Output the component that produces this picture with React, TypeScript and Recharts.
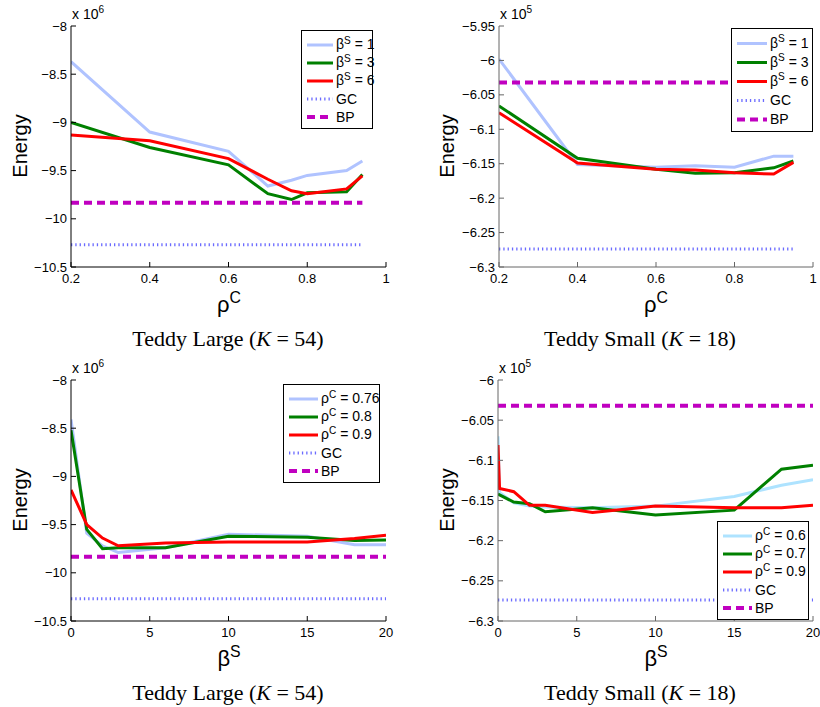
import React from 'react';
import { LineChart, Line, XAxis, YAxis } from 'recharts';

// Teddy Large (K = 54), energy x 10^6 against rho^C
const rhoLarge = [0.2, 0.4, 0.6, 0.7, 0.76, 0.8, 0.9, 0.94];
const largeBeta1 = [-8.37, -9.1, -9.3, -9.66, -9.6, -9.55, -9.5, -9.4];
const largeBeta3 = [-9.0, -9.26, -9.44, -9.74, -9.8, -9.73, -9.72, -9.54];
const largeBeta6 = [-9.13, -9.19, -9.375, -9.59, -9.71, -9.74, -9.69, -9.555];
const largeRhoRange = [0.2, 0.94];

// Teddy Small (K = 18), energy x 10^5 against rho^C
const rhoSmall = [0.2, 0.4, 0.6, 0.7, 0.8, 0.9, 0.95];
const smallBeta1 = [-5.998, -6.151, -6.155, -6.153, -6.155, -6.139, -6.139];
const smallBeta3 = [-6.066, -6.142, -6.158, -6.164, -6.163, -6.156, -6.146];
const smallBeta6 = [-6.076, -6.149, -6.158, -6.159, -6.163, -6.165, -6.148];
const smallRhoRange = [0.2, 0.95];

// Teddy Large, energy x 10^6 against beta^S
const betaLarge = [0, 1, 2, 3, 6, 10, 15, 18, 20];
const largeRho076 = [-8.41, -9.59, -9.72, -9.79, -9.74, -9.6, -9.62, -9.71, -9.71];
const largeRho08 = [-8.52, -9.55, -9.75, -9.74, -9.74, -9.62, -9.63, -9.665, -9.66];
const largeRho09 = [-9.14, -9.5, -9.64, -9.72, -9.69, -9.68, -9.68, -9.645, -9.61];

// Teddy Small, energy x 10^5 against beta^S
const betaSmall = [0, 0.1, 1, 2, 3, 6, 10, 15, 18, 20];
const smallRho06 = [-6.07, -6.14, -6.153, -6.157, -6.158, -6.159, -6.157, -6.145, -6.131, -6.124];
const smallRho07 = [-6.142, -6.143, -6.152, -6.154, -6.164, -6.159, -6.168, -6.162, -6.111, -6.106];
const smallRho09 = [-6.081, -6.135, -6.139, -6.156, -6.156, -6.165, -6.157, -6.159, -6.159, -6.156];
const betaRange = [0, 20];

// baselines
const largeGC = -10.27;
const largeBP = -9.834;
const smallGC = -6.274;
const smallBP = -6.032;

const rhoTicks = [0.2, 0.4, 0.6, 0.8, 1];
const betaTicks = [0, 5, 10, 15, 20];
const largeYTicks = [-10.5, -10, -9.5, -9, -8.5, -8];
const smallYTicks = [-6.3, -6.25, -6.2, -6.15, -6.1, -6.05, -6, -5.95];
const smallYTicks2 = [-6.3, -6.25, -6.2, -6.15, -6.1, -6.05, -6];

const SANS = '"Liberation Sans", Arial, Helvetica, sans-serif';
const SERIF = '"Liberation Serif", "Times New Roman", serif';

const LIGHT_BLUE = '#b0c3ff';
const LIGHT_CYAN = '#aee3ff';
const GREEN = '#008000';
const RED = '#ff0000';
const GC_COL = '#6b6bff';
const BP_COL = '#c000c0';

type Series = {
  name: string;
  xs: number[];
  ys: number[];
  color: string;
  width: number;
  dash?: string;
  label: React.ReactNode;
};

const rows = (xs: number[], ys: number[]) => xs.map((x, i) => ({ x, y: ys[i] }));
const flat = (range: number[], v: number) => range.map(() => v);

const fmt = (v: number) => (v < 0 ? '\u2212' + String(Math.abs(v)) : String(v));

const Sup = ({ children }: { children: React.ReactNode }) => (
  <span style={{ fontSize: '0.72em', position: 'relative', top: '-0.55em' }}>{children}</span>
);

const beta = (n: string) => (
  <>
    β<Sup>S</Sup> = {n}
  </>
);
const rho = (n: string) => (
  <>
    ρ<Sup>C</Sup> = {n}
  </>
);

function seriesList(
  xs: number[],
  ranges: number[],
  a: number[],
  b: number[],
  c: number[],
  gc: number,
  bp: number,
  firstColor: string,
  labels: React.ReactNode[],
): Series[] {
  return [
    { name: 's1', xs, ys: a, color: firstColor, width: 3, label: labels[0] },
    { name: 's2', xs, ys: b, color: GREEN, width: 3, label: labels[1] },
    { name: 's3', xs, ys: c, color: RED, width: 3, label: labels[2] },
    { name: 'gc', xs: ranges, ys: flat(ranges, gc), color: GC_COL, width: 3, dash: '1.3 3', label: 'GC' },
    { name: 'bp', xs: ranges, ys: flat(ranges, bp), color: BP_COL, width: 4, dash: '8 5', label: 'BP' },
  ];
}

interface PanelProps {
  left: number;
  top: number;
  yWidth: number;
  right: number;
  xDomain: number[];
  xTicks: number[];
  yDomain: number[];
  yTicks: number[];
  axisColor: string;
  series: Series[];
  exponent: string;
  xLabel: React.ReactNode;
  xLabelCenter: number;
  energyX: number;
  legend: { left: number; top: number; width: number; sample: number; rowH: number };
}

function Legend({ items, box }: { items: Series[]; box: PanelProps['legend'] }) {
  return (
    <div
      style={{
        position: 'absolute',
        left: box.left,
        top: box.top,
        width: box.width,
        border: '1.5px solid #000',
        background: '#fff',
        padding: '3px 0 4px 0',
        fontFamily: SANS,
        fontSize: 14,
        color: '#000',
      }}
    >
      {items.map((s) => (
        <div key={s.name} style={{ display: 'flex', alignItems: 'center', height: box.rowH }}>
          <svg width={box.sample + 8} height={box.rowH} style={{ flex: 'none' }}>
            <line
              x1={5}
              x2={5 + box.sample}
              y1={box.rowH / 2 + 2}
              y2={box.rowH / 2 + 2}
              stroke={s.color}
              strokeWidth={s.width}
              strokeDasharray={s.dash}
            />
          </svg>
          <span style={{ whiteSpace: 'nowrap', lineHeight: 1, paddingTop: 3 }}>{s.label}</span>
        </div>
      ))}
    </div>
  );
}

function Panel(p: PanelProps) {
  const chartW = 410;
  const chartH = 300;
  const plotTop = 26;
  const plotBottom = 267;
  return (
    <div style={{ position: 'absolute', left: p.left, top: p.top, width: chartW, height: chartH }}>
      <LineChart
        width={chartW}
        height={chartH}
        margin={{ top: plotTop, right: p.right, bottom: 0, left: 0 }}
        style={{ overflow: 'visible' }}
      >
        <XAxis
          dataKey="x"
          type="number"
          domain={p.xDomain}
          ticks={p.xTicks}
          allowDataOverflow
          height={chartH - plotBottom}
          tickSize={-5}
          tickMargin={12}
          stroke={p.axisColor}
          tick={{ fill: '#000', fontSize: 13, fontFamily: SANS }}
          tickFormatter={fmt}
          interval={0}
        />
        <YAxis
          type="number"
          domain={p.yDomain}
          ticks={p.yTicks}
          allowDataOverflow
          width={p.yWidth}
          tickSize={-5}
          tickMargin={9}
          stroke={p.axisColor}
          tick={{ fill: '#000', fontSize: 13, fontFamily: SANS }}
          tickFormatter={fmt}
          interval={0}
        />
        {p.series.map((s) => (
          <Line
            key={s.name}
            data={rows(s.xs, s.ys)}
            dataKey="y"
            type="linear"
            stroke={s.color}
            strokeWidth={s.width}
            strokeDasharray={s.dash}
            dot={false}
            activeDot={false}
            isAnimationActive={false}
          />
        ))}
      </LineChart>
      <div
        style={{
          position: 'absolute',
          left: p.yWidth + 1,
          top: 7,
          fontFamily: SANS,
          fontSize: 14,
          color: '#000',
          lineHeight: 1,
        }}
      >
        x 10<Sup>{p.exponent}</Sup>
      </div>
      <div
        style={{
          position: 'absolute',
          left: p.energyX,
          top: 146,
          transform: 'translate(-50%, -50%) rotate(-90deg)',
          fontFamily: SANS,
          fontSize: 20,
          color: '#000',
          lineHeight: 1,
        }}
      >
        Energy
      </div>
      <div
        style={{
          position: 'absolute',
          left: p.xLabelCenter,
          top: 294,
          transform: 'translateX(-50%)',
          fontFamily: SANS,
          fontSize: 22,
          color: '#000',
          lineHeight: 1,
          whiteSpace: 'nowrap',
        }}
      >
        {p.xLabel}
      </div>
      <Legend items={p.series} box={p.legend} />
    </div>
  );
}

function Caption({ left, top, name, k }: { left: number; top: number; name: string; k: string }) {
  return (
    <div
      style={{
        position: 'absolute',
        left,
        top,
        transform: 'translateX(-50%)',
        fontFamily: SERIF,
        fontSize: 22,
        color: '#000',
        whiteSpace: 'nowrap',
        lineHeight: 1,
      }}
    >
      {name} (<i>K</i>&nbsp;=&nbsp;{k})
    </div>
  );
}

const rhoLabel = (
  <>
    ρ<Sup>C</Sup>
  </>
);
const betaLabel = (
  <>
    β<Sup>S</Sup>
  </>
);

export default function App() {
  const p1 = seriesList(rhoLarge, largeRhoRange, largeBeta1, largeBeta3, largeBeta6, largeGC, largeBP, LIGHT_BLUE, [
    beta('1'),
    beta('3'),
    beta('6'),
  ]);
  const p2 = seriesList(rhoSmall, smallRhoRange, smallBeta1, smallBeta3, smallBeta6, smallGC, smallBP, LIGHT_BLUE, [
    beta('1'),
    beta('3'),
    beta('6'),
  ]);
  const p3 = seriesList(betaLarge, betaRange, largeRho076, largeRho08, largeRho09, largeGC, largeBP, LIGHT_BLUE, [
    rho('0.76'),
    rho('0.8'),
    rho('0.9'),
  ]);
  const p4 = seriesList(betaSmall, betaRange, smallRho06, smallRho07, smallRho09, smallGC, smallBP, LIGHT_CYAN, [
    rho('0.6'),
    rho('0.7'),
    rho('0.9'),
  ]);

  return (
    <div
      style={{
        position: 'absolute',
        left: 0,
        top: 0,
        width: 820,
        height: 707,
        background: '#fff',
        overflow: 'hidden',
      }}
    >
      <Panel
        left={0}
        top={0}
        yWidth={71}
        right={24}
        xDomain={[0.2, 1]}
        xTicks={rhoTicks}
        yDomain={[-10.5, -8]}
        yTicks={largeYTicks}
        axisColor="#000"
        series={p1}
        exponent="6"
        xLabel={rhoLabel}
        xLabelCenter={229}
        energyX={20}
        legend={{ left: 301, top: 30, width: 70, sample: 26, rowH: 18 }}
      />
      <Panel
        left={410}
        top={0}
        yWidth={89}
        right={7}
        xDomain={[0.2, 1]}
        xTicks={rhoTicks}
        yDomain={[-6.3, -5.95]}
        yTicks={smallYTicks}
        axisColor="#666"
        series={p2}
        exponent="5"
        xLabel={rhoLabel}
        xLabelCenter={246}
        energyX={37}
        legend={{ left: 321, top: 28, width: 80, sample: 30, rowH: 19 }}
      />
      <Panel
        left={0}
        top={354}
        yWidth={71}
        right={24}
        xDomain={[0, 20]}
        xTicks={betaTicks}
        yDomain={[-10.5, -8]}
        yTicks={largeYTicks}
        axisColor="#000"
        series={p3}
        exponent="6"
        xLabel={betaLabel}
        xLabelCenter={229}
        energyX={20}
        legend={{ left: 283, top: 30, width: 95, sample: 29, rowH: 18 }}
      />
      <Panel
        left={410}
        top={354}
        yWidth={88}
        right={7}
        xDomain={[0, 20]}
        xTicks={betaTicks}
        yDomain={[-6.3, -6]}
        yTicks={smallYTicks2}
        axisColor="#666"
        series={p4}
        exponent="5"
        xLabel={betaLabel}
        xLabelCenter={246}
        energyX={37}
        legend={{ left: 307, top: 167, width: 90, sample: 29, rowH: 18 }}
      />
      <Caption left={228} top={328} name="Teddy Large" k="54" />
      <Caption left={640} top={328} name="Teddy Small" k="18" />
      <Caption left={228} top={682} name="Teddy Large" k="54" />
      <Caption left={640} top={682} name="Teddy Small" k="18" />
    </div>
  );
}
